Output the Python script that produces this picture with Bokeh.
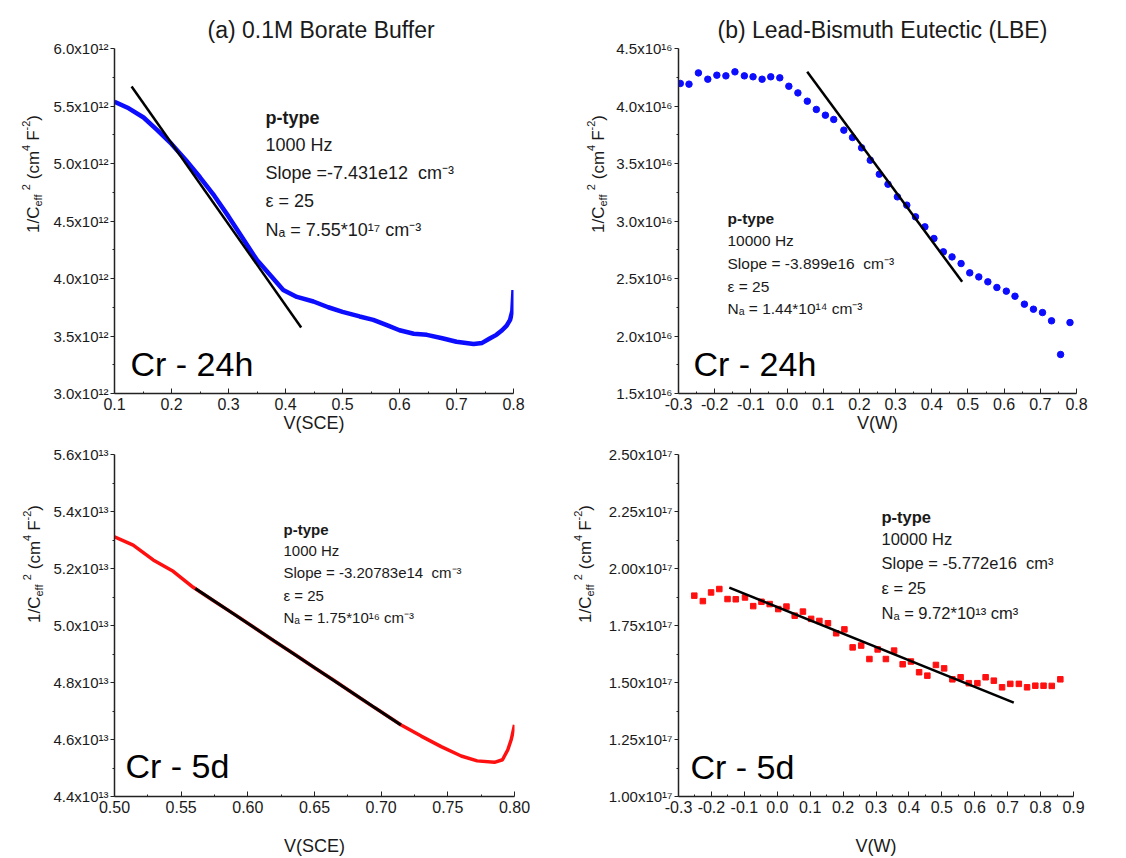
import numpy as np
from math import pi
from bokeh.plotting import figure
from bokeh.layouts import column, row
from bokeh.models import Label, FixedTicker, CustomJSTickFormatter, Range1d, ColumnDataSource
from bokeh.embed import file_html
from bokeh.resources import INLINE

FONT = "Liberation Sans"
TXT = "#1a1a1a"
BLUE = "#0c0cff"
RED = "#ff1010"
SP2 = "\u00a0\u00a0"

# ---------------- data ----------------
# (a) 0.1M Borate Buffer, Cr - 24h   (1/Ceff^2 in units of 1e12 cm^4 F^-2)
bb24_v = [0.100, 0.125, 0.151, 0.175, 0.200, 0.225, 0.250, 0.275, 0.300, 0.325, 0.350,
          0.375, 0.396, 0.420, 0.449, 0.475, 0.500, 0.530, 0.554, 0.580, 0.600, 0.625,
          0.648, 0.675, 0.700, 0.730, 0.745, 0.759, 0.770, 0.780, 0.788, 0.794, 0.798, 0.800]
bb24_c = [5.536, 5.48, 5.40, 5.29, 5.17, 5.03, 4.88, 4.72, 4.54, 4.35, 4.16,
          4.02, 3.90, 3.84, 3.80, 3.75, 3.71, 3.67, 3.64, 3.59, 3.55, 3.52,
          3.51, 3.48, 3.45, 3.43, 3.44, 3.48, 3.51, 3.55, 3.59, 3.64, 3.72, 3.90]
bb24_fit_v = [0.130, 0.4275]
bb24_fit_c = [5.67, 3.574]

# (b) LBE, Cr - 24h   (units of 1e16)
lbe24_v = [-0.295, -0.271, -0.245, -0.219, -0.194, -0.169, -0.144, -0.118, -0.094, -0.069,
           -0.045, -0.020, 0.005, 0.030, 0.056, 0.081, 0.106, 0.129, 0.157, 0.181, 0.206,
           0.230, 0.255, 0.279, 0.305, 0.331, 0.355, 0.381, 0.406, 0.432, 0.456, 0.481,
           0.505, 0.530, 0.555, 0.580, 0.606, 0.630, 0.656, 0.681, 0.706, 0.731, 0.756, 0.782]
lbe24_c = [4.196, 4.19, 4.288, 4.233, 4.268, 4.262, 4.297, 4.262, 4.254, 4.233,
           4.254, 4.245, 4.172, 4.114, 4.042, 3.97, 3.92, 3.883, 3.79, 3.726, 3.636,
           3.529, 3.407, 3.32, 3.21, 3.138, 3.036, 2.949, 2.848, 2.732, 2.688, 2.630,
           2.549, 2.514, 2.471, 2.422, 2.39, 2.346, 2.277, 2.233, 2.204, 2.132, 1.839, 2.117]
lbe24_fit_v = [0.0557, 0.484]
lbe24_fit_c = [4.297, 2.471]

# (a) 0.1M Borate Buffer, Cr - 5d   (units of 1e13)
bb5_v = [0.500, 0.514, 0.529, 0.544, 0.559, 0.574, 0.590, 0.605, 0.620, 0.635, 0.650,
         0.665, 0.680, 0.695, 0.715, 0.730, 0.745, 0.760, 0.772, 0.785, 0.791, 0.795, 0.7975, 0.800]
bb5_c = [5.311, 5.282, 5.230, 5.190, 5.134, 5.088, 5.039, 4.992, 4.945, 4.899, 4.852,
         4.806, 4.759, 4.712, 4.651, 4.612, 4.575, 4.542, 4.525, 4.520, 4.529, 4.564, 4.599, 4.651]
bb5_fit_v = [0.5606, 0.7148]
bb5_fit_c = [5.130, 4.651]

# (b) LBE, Cr - 5d   (units of 1e17)
lbe5_v = [-0.252, -0.226, -0.201, -0.176, -0.151, -0.126, -0.098, -0.073, -0.048, -0.023,
          0.003, 0.028, 0.053, 0.078, 0.103, 0.128, 0.154, 0.179, 0.204, 0.229, 0.255,
          0.280, 0.305, 0.330, 0.355, 0.381, 0.406, 0.431, 0.456, 0.482, 0.507, 0.532,
          0.557, 0.582, 0.608, 0.633, 0.658, 0.683, 0.708, 0.734, 0.759, 0.784, 0.809, 0.834, 0.860]
lbe5_c = [1.881, 1.857, 1.895, 1.910, 1.866, 1.865, 1.873, 1.835, 1.854, 1.844,
          1.822, 1.833, 1.793, 1.811, 1.779, 1.770, 1.760, 1.716, 1.733, 1.654, 1.662,
          1.603, 1.645, 1.603, 1.640, 1.580, 1.592, 1.545, 1.530, 1.577, 1.562, 1.514,
          1.523, 1.497, 1.497, 1.523, 1.508, 1.479, 1.494, 1.494, 1.479, 1.486, 1.486, 1.485, 1.514]
lbe5_fit_v = [-0.1457, 0.7185]
lbe5_fit_c = [1.916, 1.412]

# tick values
ticks_x_bb24 = [0.1, 0.2, 0.3, 0.4, 0.5, 0.6, 0.7, 0.8]
ticks_y_bb24 = [3.0, 3.5, 4.0, 4.5, 5.0, 5.5, 6.0]
ticks_x_lbe24 = [-0.3, -0.2, -0.1, 0.0, 0.1, 0.2, 0.3, 0.4, 0.5, 0.6, 0.7, 0.8]
ticks_y_lbe24 = [1.5, 2.0, 2.5, 3.0, 3.5, 4.0, 4.5]
ticks_x_bb5 = [0.50, 0.55, 0.60, 0.65, 0.70, 0.75, 0.80]
ticks_y_bb5 = [4.4, 4.6, 4.8, 5.0, 5.2, 5.4, 5.6]
ticks_x_lbe5 = [-0.3, -0.2, -0.1, 0.0, 0.1, 0.2, 0.3, 0.4, 0.5, 0.6, 0.7, 0.8, 0.9]
ticks_y_lbe5 = [1.00, 1.25, 1.50, 1.75, 2.00, 2.25, 2.50]

notes_bb24 = ["p-type", "1000 Hz", "Slope =-7.431e12" + SP2 + "cm\u207b\u00b3", "\u03b5 = 25",
              "N\u2090 = 7.55*10\u00b9\u2077 cm\u207b\u00b3"]
notes_lbe24 = ["p-type", "10000 Hz", "Slope = -3.899e16" + SP2 + "cm\u207b\u00b3", "\u03b5 = 25",
               "N\u2090 = 1.44*10\u00b9\u2074 cm\u207b\u00b3"]
notes_bb5 = ["p-type", "1000 Hz", "Slope = -3.20783e14" + SP2 + "cm\u207b\u00b3", "\u03b5 = 25",
             "N\u2090 = 1.75*10\u00b9\u2076 cm\u207b\u00b3"]
notes_lbe5 = ["p-type", "10000 Hz", "Slope = -5.772e16" + SP2 + "cm\u00b3", "\u03b5 = 25",
              "N\u2090 = 9.72*10\u00b9\u00b3 cm\u00b3"]

# ---------------- helpers ----------------
W = {'1': 0.556, '/': 0.278, 'C': 0.722, 'e': 0.556, 'f': 0.278, ' ': 0.278, '(': 0.333,
     'c': 0.5, 'm': 0.833, '4': 0.556, 'F': 0.611, '-': 0.333, '2': 0.556, ')': 0.333}


def tw(s, size):
    return sum(W[ch] for ch in s) * size


def minors(t):
    return [(a + b) / 2 for a, b in zip(t[:-1], t[1:])]


def make_panel(width, height, borders, xr, yr, xt, yt, scale, sup, ydec, xdec, xlabel,
               xlab_standoff, title=None, title_offset=0):
    bl, br, bt, bb = borders
    p = figure(width=width, height=height, x_range=Range1d(xr[0], xr[1]),
               y_range=Range1d(yr[0] * scale, yr[1] * scale),
               output_backend="svg", toolbar_location=None,
               min_border_left=bl, min_border_right=br, min_border_top=bt, min_border_bottom=bb)
    p.outline_line_color = None
    p.grid.visible = False
    p.background_fill_color = "white"
    p.border_fill_color = "white"
    if title:
        p.title.text = title
        p.title.align = "left"
        p.title.offset = title_offset
        p.title.text_font = FONT
        p.title.text_font_size = "23px"
        p.title.text_font_style = "normal"
        p.title.text_color = TXT
        p.title.standoff = 12

    xa = p.xaxis[0]
    xa.ticker = FixedTicker(ticks=xt, minor_ticks=minors(xt))
    xa.formatter = CustomJSTickFormatter(args=dict(d=xdec), code="""
        if (Math.abs(tick) < 1e-9) { return (0).toFixed(d); }
        return tick.toFixed(d);""")
    xa.axis_label = xlabel
    xa.axis_label_text_font = FONT
    xa.axis_label_text_font_size = "18px"
    xa.axis_label_text_font_style = "normal"
    xa.axis_label_text_color = TXT
    xa.axis_label_standoff = xlab_standoff
    xa.major_label_text_font = FONT
    xa.major_label_text_font_size = "16px"
    xa.major_label_text_color = TXT
    xa.major_label_standoff = 4
    xa.major_tick_in = 5
    xa.major_tick_out = 0
    xa.minor_tick_in = 2
    xa.minor_tick_out = 0
    xa.axis_line_width = 1.5
    xa.axis_line_color = "#222222"
    xa.major_tick_line_color = "#222222"
    xa.minor_tick_line_color = "#222222"

    ya = p.yaxis[0]
    ya.ticker = FixedTicker(ticks=[v * scale for v in yt],
                            minor_ticks=[v * scale for v in minors(yt)])
    ya.formatter = CustomJSTickFormatter(args=dict(sc=scale, d=ydec, sup=sup), code="""
        return (tick / sc).toFixed(d) + 'x10' + sup;""")
    ya.axis_label = None
    ya.major_label_text_font = FONT
    ya.major_label_text_font_size = "15px"
    ya.major_label_text_color = TXT
    ya.major_label_standoff = 2
    ya.major_tick_in = 0
    ya.major_tick_out = 4
    ya.minor_tick_in = 0
    ya.minor_tick_out = 2
    ya.axis_line_width = 1.5
    ya.axis_line_color = "#222222"
    ya.major_tick_line_color = "#222222"
    ya.minor_tick_line_color = "#222222"
    return p


def ylabel_fig(width, height, baseline_x, center_y):
    """Narrow figure holding the rotated y-axis title, 1/Ceff^2 (cm^4 F^-2)."""
    f = figure(width=width, height=height, x_range=Range1d(0, width), y_range=Range1d(0, height),
               output_backend="svg", toolbar_location=None, min_border=0,
               x_axis_location=None, y_axis_location=None)
    f.outline_line_color = None
    f.grid.visible = False
    f.border_fill_color = "white"
    big, small = 17, 11
    # (text, font size, baseline shift, gap before)
    pieces = [("1/C", big, 0, 0), ("eff", small, 4, 0), ("2", small, -8, 4), ("(cm", big, 0, 5),
              ("4", small, -8, 0), ("F", big, 0, 4), ("-2", small, -8, 0), (")", big, 0, 0)]
    total = sum(tw(s, sz) + g for s, sz, _, g in pieces)
    y = center_y - total / 2
    for s, sz, sh, g in pieces:
        y += g
        f.add_layout(Label(x=baseline_x + sh, y=y, x_units="screen", y_units="screen", text=s,
                           angle=pi / 2, text_align="left", text_baseline="alphabetic",
                           text_font=FONT, text_font_size=f"{sz}px", text_color=TXT))
        y += tw(s, sz)
    return f


def add_notes(p, lines, x, ys, size):
    for i, (t, y) in enumerate(zip(lines, ys)):
        p.add_layout(Label(x=x, y=y, x_units="screen", y_units="screen", text=t,
                           text_align="left", text_baseline="middle", text_font=FONT,
                           text_font_size=f"{size}px", text_color=TXT,
                           text_font_style="bold" if i == 0 else "normal"))


def add_tag(p, text, x, y):
    p.add_layout(Label(x=x, y=y, x_units="screen", y_units="screen", text=text,
                       text_align="left", text_baseline="middle", text_font=FONT,
                       text_font_size="34px", text_color="#000000"))


# ---------------- panel 1 ----------------
S1 = 1e12
p1 = make_panel(513, 440, (64, 50, 48, 47), (0.1, 0.8), (3.0, 6.0), ticks_x_bb24, ticks_y_bb24,
                S1, "\u00b9\u00b2", 1, 1, "V(SCE)", 0, "(a) 0.1M Borate Buffer", 93)
src1 = ColumnDataSource(dict(v=bb24_v, c=[c * S1 for c in bb24_c]))
p1.line("v", "c", source=src1, line_color=BLUE, line_width=4.5)
p1.line(bb24_fit_v, [c * S1 for c in bb24_fit_c], line_color="black", line_width=2.5)
add_notes(p1, notes_bb24, 151, [276, 249, 221, 193, 164], 18)
add_tag(p1, "Cr - 24h", 16, 30)
l1 = ylabel_fig(50, 440, 33, 219.5)

# ---------------- panel 2 ----------------
S2 = 1e16
p2 = make_panel(513, 440, (63, 50, 48, 47), (-0.3, 0.8), (1.5, 4.5), ticks_x_lbe24, ticks_y_lbe24,
                S2, "\u00b9\u2076", 1, 1, "V(W)", 0, "(b) Lead-Bismuth Eutectic (LBE)", 39)
src2 = ColumnDataSource(dict(v=lbe24_v, c=[c * S2 for c in lbe24_c]))
p2.scatter("v", "c", source=src2, marker="circle", size=6.5, fill_color=BLUE, line_color=BLUE)
p2.line(lbe24_fit_v, [c * S2 for c in lbe24_fit_c], line_color="black", line_width=2.5)
add_notes(p2, notes_lbe24, 49, [175, 153, 130, 107, 85], 15.5)
add_tag(p2, "Cr - 24h", 15, 30)
l2 = ylabel_fig(50, 440, 35, 219.5)

# ---------------- panel 3 ----------------
S3 = 1e13
p3 = make_panel(513, 418, (64, 49, 14, 61), (0.5, 0.8), (4.4, 5.6), ticks_x_bb5, ticks_y_bb5,
                S3, "\u00b9\u00b3", 1, 2, "V(SCE)", 20)
src3 = ColumnDataSource(dict(v=bb5_v, c=[c * S3 for c in bb5_c]))
p3.line("v", "c", source=src3, line_color=RED, line_width=3.5)
p3.line(bb5_fit_v, [c * S3 for c in bb5_fit_c], line_color="black", line_width=3)
add_notes(p3, notes_bb5, 169, [267, 246, 224, 201, 179], 15)
add_tag(p3, "Cr - 5d", 11, 31)
l3 = ylabel_fig(50, 418, 34, 232.5)

# ---------------- panel 4 ----------------
S4 = 1e17
p4 = make_panel(521, 418, (71, 53, 14, 61), (-0.3, 0.9), (1.0, 2.5), ticks_x_lbe5, ticks_y_lbe5,
                S4, "\u00b9\u2077", 2, 1, "V(W)", 20)
src4 = ColumnDataSource(dict(v=lbe5_v, c=[c * S4 for c in lbe5_c]))
p4.scatter("v", "c", source=src4, marker="square", size=5.5, fill_color=RED, line_color=RED)
p4.line(lbe5_fit_v, [c * S4 for c in lbe5_fit_c], line_color="black", line_width=2.5)
add_notes(p4, notes_lbe5, 203, [280, 258, 234, 209, 184], 16.5)
add_tag(p4, "Cr - 5d", 12, 30)
l4 = ylabel_fig(42, 418, 22, 232.5)

layout = column(row(l1, p1, l2, p2), row(l3, p3, l4, p4))
open("out.html", "w").write(file_html(layout, INLINE))
